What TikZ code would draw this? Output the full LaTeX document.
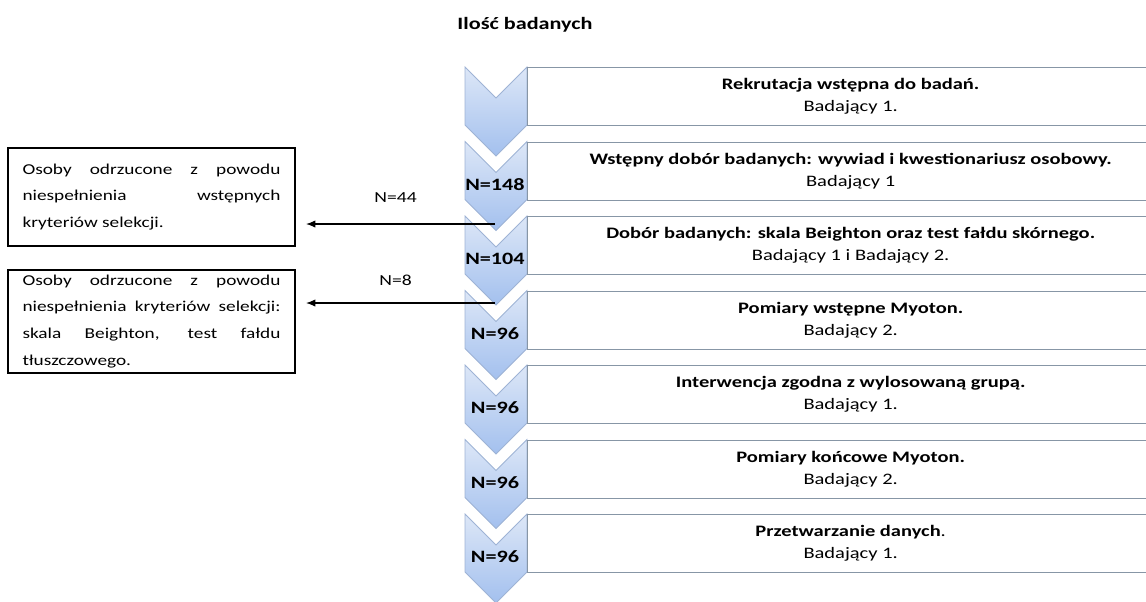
\documentclass[tikz,border=0pt]{standalone}
\usepackage{fontspec}
\setmainfont{Carlito}[FakeStretch=1.28]
\usetikzlibrary{positioning,arrows.meta}
\definecolor{chevtop}{HTML}{DDE7F7}
\definecolor{chevbot}{HTML}{A3C0EE}
\definecolor{chevline}{HTML}{9EB3D5}
\definecolor{boxline}{HTML}{8796A6}
\begin{document}
\begin{tikzpicture}[x=0.75pt,y=-0.75pt]
    \tikzstyle{chevron}=[draw=chevline,line width=0.6pt,top color=chevtop,bottom color=chevbot]
    \tikzstyle{stepbox}=[draw=boxline,line width=1pt,anchor=north west,minimum width=484.5pt,minimum height=43.5pt,inner sep=0pt,align=center,font=\fontsize{12}{16.5}\selectfont]
    \tikzstyle{count}=[font=\bfseries\fontsize{13}{15}\selectfont,inner sep=0pt]
    \tikzstyle{rejectbox}=[draw=black,line width=1.5pt,text width=193.5pt,inner xsep=10.9pt,minimum height=73.5pt,align=justify,font=\fontsize{11.3}{20.2}\selectfont]
    \tikzstyle{dropped}=[draw=black,line width=0.9pt,-{Latex[length=7pt,width=5.5pt]},shorten >=7.5pt]

    \clip (0,0) rectangle (1146,601);

    \node[font=\bfseries\fontsize{13}{15}\selectfont] (title) at (525,25) {Ilość badanych};

    % chevrons
    \foreach \t in {67,141.5,216,290.5,365,439.5,514}
        \draw[chevron] (465,\t) -- (496,\t+31) -- (527,\t) -- (527,\t+58) -- (496,\t+89) -- (465,\t+58) -- cycle;

    % steps
    \node[stepbox] (s1) at (527,67) {\textbf{Rekrutacja wstępna do badań.}\\Badający 1.};
    \node[stepbox] (s2) at (527,141.5) {\textbf{Wstępny dobór badanych: wywiad i kwestionariusz osobowy.}\\Badający 1};
    \node[stepbox] (s3) at (527,216) {\textbf{Dobór badanych: skala Beighton oraz test fałdu skórnego.}\\Badający 1 i Badający 2.};
    \node[stepbox] (s4) at (527,290.5) {\textbf{Pomiary wstępne Myoton.}\\Badający 2.};
    \node[stepbox] (s5) at (527,365) {\textbf{Interwencja zgodna z wylosowaną grupą.}\\Badający 1.};
    \node[stepbox] (s6) at (527,439.5) {\textbf{Pomiary końcowe Myoton.}\\Badający 2.};
    \node[stepbox] (s7) at (527,514) {\textbf{Przetwarzanie danych}.\\Badający 1.};

    % counts
    \node[count] (n2) at (495,184.5) {N=148};
    \node[count] (n3) at (495,259) {N=104};
    \node[count] (n4) at (495,333.5) {N=96};
    \node[count] (n5) at (495,408) {N=96};
    \node[count] (n6) at (495,482.5) {N=96};
    \node[count] (n7) at (495,557) {N=96};

    % rejected
    \node[rejectbox] (r1) at (151.5,197) {Osoby odrzucone z powodu\linebreak niespełnienia wstępnych\linebreak kryteriów selekcji.};
    \node[rejectbox,minimum height=77pt] (r2) at (151.5,321.5) {Osoby odrzucone z powodu\linebreak niespełnienia kryteriów selekcji:\linebreak skala Beighton, test fałdu\linebreak tłuszczowego.};

    \coordinate (t2) at (495,224);
    \coordinate (t3) at (495,303);
    \draw[dropped] (t2) -- (t2 -| r1.east) node [midway, above=12pt, font=\fontsize{11.5}{14}\selectfont] {N=44};
    \draw[dropped] (t3) -- (t3 -| r2.east) node [midway, above=9pt, font=\fontsize{11.5}{14}\selectfont] {N=8};
\end{tikzpicture}
\end{document}
